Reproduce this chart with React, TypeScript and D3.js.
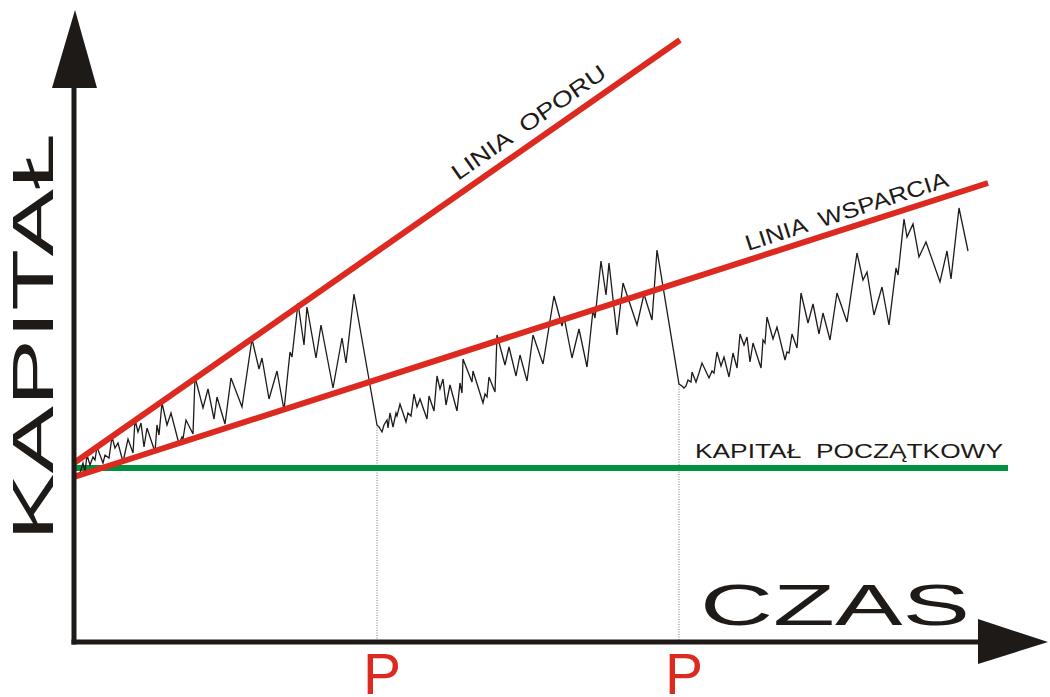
import React, { useEffect, useRef } from 'react';
import * as d3 from 'd3';

// time (days) and capital values
const times: number[] = [
  1, 6, 9, 11, 13, 16, 19, 21, 23, 29, 31, 35, 38, 41, 44, 49, 54, 59, 61, 64,
  67, 70, 73, 81, 83, 85, 88, 93, 97, 105, 108, 109, 112, 119, 121, 129, 134, 140, 143, 151,
  157, 168, 178, 185, 188, 195, 203, 210, 216, 218, 224, 230, 233, 242, 247, 259, 268, 272, 280, 303,
  305, 308, 310, 313, 314, 316, 319, 322, 323, 326, 332, 334, 337, 340, 343, 346, 353, 355, 360, 363,
  366, 369, 372, 376, 383, 386, 388, 389, 398, 399, 409, 411, 413, 415, 421, 423, 431, 435, 442, 446,
  453, 459, 469, 480, 488, 490, 498, 505, 513, 519, 521, 527, 532, 535, 543, 549, 563, 570, 578, 583,
  605, 608, 610, 612, 614, 617, 618, 622, 625, 628, 635, 638, 640, 643, 647, 650, 655, 659, 663, 666,
  670, 673, 676, 679, 687, 689, 691, 693, 699, 703, 711, 713, 715, 718, 723, 727, 734, 739, 745, 749,
  756, 763, 773, 783, 789, 793, 800, 808, 815, 822, 824, 830, 833, 839, 845, 852, 866, 873, 877, 885,
  894,
];
const capital: number[] = [
  168, 169, 179, 170, 187, 177, 185, 182, 195, 179, 187, 184, 205, 194, 199, 180, 203, 189, 222, 210,
  219, 195, 214, 190, 217, 207, 239, 217, 229, 198, 205, 203, 222, 208, 265, 234, 253, 223, 245, 218,
  264, 235, 303, 273, 284, 243, 271, 232, 290, 285, 339, 297, 335, 284, 317, 254, 304, 279, 348, 217,
  215, 210, 217, 222, 214, 229, 215, 229, 226, 238, 220, 229, 226, 248, 235, 243, 223, 246, 231, 266,
  253, 263, 237, 257, 231, 259, 249, 283, 260, 271, 239, 248, 245, 265, 250, 307, 277, 295, 266, 287,
  261, 307, 278, 346, 316, 325, 284, 313, 275, 332, 324, 381, 347, 379, 307, 359, 317, 348, 322, 392,
  258, 256, 254, 256, 262, 260, 270, 260, 269, 279, 264, 271, 269, 290, 276, 285, 265, 289, 274, 308,
  297, 305, 280, 299, 274, 302, 299, 325, 303, 315, 282, 290, 289, 308, 294, 349, 319, 338, 308, 329,
  302, 349, 320, 389, 362, 370, 327, 355, 317, 374, 367, 423, 405, 418, 385, 400, 360, 391, 363, 434,
  391,
];

const startCapital = 174;
const resistance: [number, number][] = [[0, 179], [606, 602]];
const support: [number, number][] = [[0, 165], [914, 459]];
const initialLine: [number, number][] = [[0, startCapital], [934, startCapital]];
const pullbacks: number[] = [303, 605];

const W = 1050;
const H = 697;
const RED = '#dc2a20';
const GREEN = '#00913f';
const INK = '#1e1a18';
const FONT = '"Liberation Sans", Arial, sans-serif';

export default function App() {
  const ref = useRef<SVGSVGElement>(null);

  useEffect(() => {
    const svg = d3.select(ref.current);
    svg.selectAll('*').remove();

    const x = d3.scaleLinear().domain([0, 974]).range([74, 1048]);
    const y = d3.scaleLinear().domain([0, 632]).range([642, 10]);
    const line = d3.line<[number, number]>().x(d => x(d[0])).y(d => y(d[1]));

    const x0 = x(0);
    const y0 = y(0);

    // dotted drop lines at pullbacks
    pullbacks.forEach(t => {
      const i = times.indexOf(t);
      svg.append('line')
        .attr('x1', x(t)).attr('x2', x(t))
        .attr('y1', y(capital[i])).attr('y2', y0)
        .attr('stroke', '#777').attr('stroke-width', 1)
        .attr('stroke-dasharray', '1,1.5');
    });

    // initial capital
    svg.append('path').attr('d', line(initialLine)).attr('stroke', GREEN)
      .attr('stroke-width', 6).attr('fill', 'none');

    // equity curve
    const pts: [number, number][] = times.map((t, i) => [t, capital[i]]);
    svg.append('path').attr('d', line(pts)).attr('stroke', INK)
      .attr('stroke-width', 1.3).attr('fill', 'none').attr('stroke-linejoin', 'miter');

    // trend lines
    [resistance, support].forEach(seg => {
      svg.append('path').attr('d', line(seg)).attr('stroke', RED)
        .attr('stroke-width', 6).attr('fill', 'none');
    });

    // axes with arrows
    svg.append('line').attr('x1', x0).attr('x2', x0).attr('y1', y0 + 2.5).attr('y2', 86)
      .attr('stroke', INK).attr('stroke-width', 5);
    svg.append('path').attr('d', `M${x0 - 22},88 L${x0 + 23},88 L${x0 + 1},10 Z`).attr('fill', INK);
    svg.append('line').attr('x1', x0 - 2.5).attr('x2', 980).attr('y1', y0).attr('y2', y0)
      .attr('stroke', INK).attr('stroke-width', 5);
    svg.append('path').attr('d', `M978,${y0 - 23} L978,${y0 + 22} L1048,${y0} Z`).attr('fill', INK);

    // line labels
    const angleOf = (seg: [number, number][]) =>
      Math.atan2(y(seg[1][1]) - y(seg[0][1]), x(seg[1][0]) - x(seg[0][0])) * 180 / Math.PI;

    svg.append('text')
      .attr('transform', `translate(458,181) rotate(${angleOf(resistance)})`)
      .attr('font-family', FONT).attr('font-size', 22).attr('fill', INK)
      .attr('textLength', 183).attr('lengthAdjust', 'spacingAndGlyphs')
      .attr('xml:space', 'preserve')
      .text('LINIA  OPORU');

    svg.append('text')
      .attr('transform', `translate(748,251) rotate(${angleOf(support)})`)
      .attr('font-family', FONT).attr('font-size', 22).attr('fill', INK)
      .attr('textLength', 212).attr('lengthAdjust', 'spacingAndGlyphs')
      .attr('xml:space', 'preserve')
      .text('LINIA  WSPARCIA');

    svg.append('text')
      .attr('x', 695).attr('y', 458)
      .attr('font-family', FONT).attr('font-size', 21).attr('fill', INK)
      .attr('textLength', 308).attr('lengthAdjust', 'spacingAndGlyphs')
      .attr('xml:space', 'preserve')
      .text('KAPITAŁ  POCZĄTKOWY');

    // axis titles
    svg.append('text')
      .attr('transform', 'translate(53,541) rotate(-90)')
      .attr('font-family', FONT).attr('font-size', 57).attr('fill', INK)
      .attr('textLength', 408).attr('lengthAdjust', 'spacingAndGlyphs')
      .text('KAPITAŁ');

    svg.append('text')
      .attr('x', 700).attr('y', 625)
      .attr('font-family', FONT).attr('font-size', 58).attr('fill', INK)
      .attr('textLength', 270).attr('lengthAdjust', 'spacingAndGlyphs')
      .text('CZAS');

    pullbacks.forEach(t => {
      svg.append('text')
        .attr('x', x(t) + 5).attr('y', 694)
        .attr('text-anchor', 'middle')
        .attr('font-family', FONT).attr('font-size', 57).attr('fill', RED)
        .text('P');
    });
  }, []);

  return (
    <svg
      ref={ref}
      width={W}
      height={H}
      style={{ position: 'absolute', left: 0, top: 0, background: '#fff' }}
    />
  );
}
